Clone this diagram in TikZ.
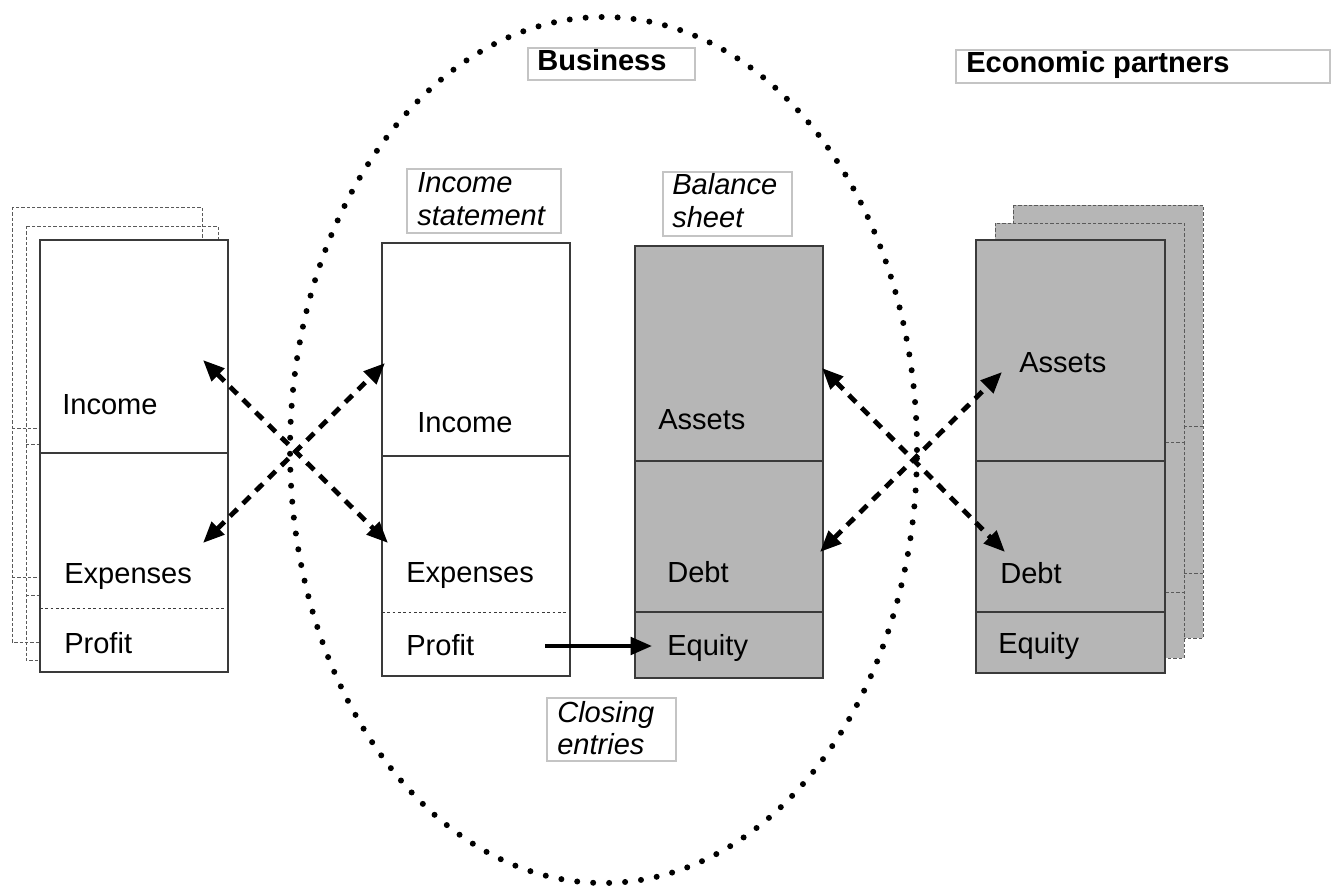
\documentclass[tikz,border=0pt]{standalone}
\usepackage{fontspec}
\setmainfont{Liberation Sans}
\usetikzlibrary{arrows.meta}
\definecolor{boxgray}{HTML}{B6B6B6}
\definecolor{edge}{HTML}{3A3A3A}
\definecolor{lbledge}{HTML}{C4C4C4}
\definecolor{shadowedge}{HTML}{5A5A5A}
\tikzset{
 txt/.style={anchor=base west, inner sep=0pt, font=\fontsize{21.8}{24}\selectfont},
 itxt/.style={anchor=base west, inner sep=0pt, font=\fontsize{21.8}{24}\selectfont\itshape},
 btxt/.style={anchor=base west, inner sep=0pt, font=\fontsize{21.8}{24}\selectfont\bfseries},
 mainbox/.style={draw=edge, line width=1.5pt},
 shadowbox/.style={draw=shadowedge, line width=0.75pt, dash pattern=on 2.5pt off 1.5pt},
 divline/.style={draw=edge, line width=1.2pt},
 dotline/.style={draw=edge, line width=0.75pt, dash pattern=on 2pt off 2pt},
 lblbox/.style={draw=lbledge, line width=1pt},
 xarrow/.style={line width=3.6pt, dash pattern=on 7.5pt off 6pt, {Triangle[length=16pt,width=13pt]}-{Triangle[length=16pt,width=13pt]}},
 closearrow/.style={line width=3pt, -{Triangle[length=16pt,width=13pt]}},
 bizline/.style={line width=4.5pt, line cap=round, dash pattern=on 0pt off 12pt},
}
\begin{document}
\begin{tikzpicture}[x=0.75pt,y=-0.75pt]
\useasboundingbox (0,0) rectangle (1331,888);
% business ellipse
\draw[bizline] (603.5,450) ellipse [x radius=235.1pt, y radius=324.75pt];

% left stack (shadows)
\draw[shadowbox] (12,207) rectangle (202,642);
\draw[shadowbox] (12,428) -- (202,428) (12,577) -- (202,577);
\draw[shadowbox] (26,226) rectangle (218,660);
\draw[shadowbox] (26,444) -- (218,444) (26,595) -- (218,595);
\draw[mainbox, fill=white] (40,240) rectangle (228,672);
\draw[divline] (40,453) -- (228,453);
\draw[dotline] (40,608) -- (225,608);

% right stack
\draw[shadowbox, fill=boxgray] (1013,205) rectangle (1203,638);
\draw[shadowbox] (1013,426) -- (1203,426) (1013,573) -- (1203,573);
\draw[shadowbox, fill=boxgray] (995,223) rectangle (1184,658);
\draw[shadowbox] (995,442) -- (1184,442) (995,592) -- (1184,592);
\draw[mainbox, fill=boxgray] (976,240) rectangle (1165,673);
\draw[divline] (976,461) -- (1165,461) (976,612) -- (1165,612);

% income statement
\draw[mainbox, fill=white] (382,243) rectangle (570,676);
\draw[divline] (382,456) -- (570,456);
\draw[dotline] (382,612) -- (566,612);

% balance sheet
\draw[mainbox, fill=boxgray] (635,246) rectangle (823,678);
\draw[divline] (635,461) -- (823,461) (635,612) -- (823,612);

% label boxes
\draw[lblbox] (528,48) rectangle (695,80);
\draw[lblbox] (956,50) rectangle (1330,83);
\draw[lblbox] (407,169) rectangle (561,233);
\draw[lblbox] (663,172) rectangle (792,236);
\draw[lblbox] (547,698) rectangle (676,761);

% titles
\node[btxt] (business) at (537,71) {Business};
\node[btxt] (partners) at (966,73) {Economic partners};
\node[itxt] (isa) at (417,193) {Income};
\node[itxt] (isb) at (417,225) {statement};
\node[itxt] (bsa) at (672,195) {Balance};
\node[itxt] (bsb) at (672,227) {sheet};
\node[itxt] (cea) at (557,722) {Closing};
\node[itxt] (ceb) at (557,754) {entries};

% box texts
\node[txt] (lincome) at (62,414) {Income};
\node[txt] (lexp) at (64,583) {Expenses};
\node[txt] (lprofit) at (64,653) {Profit};
\node[txt] (mincome) at (417,432) {Income};
\node[txt] (mexp) at (406,582) {Expenses};
\node[txt] (mprofit) at (406,655) {Profit};
\node[txt] (bassets) at (658,429) {Assets};
\node[txt] (bdebt) at (667,582) {Debt};
\node[txt] (bequity) at (667,655) {Equity};
\node[txt] (rassets) at (1019,372) {Assets};
\node[txt] (rdebt) at (1000,583) {Debt};
\node[txt] (requity) at (998,653) {Equity};

% arrow end points
\coordinate (l1a) at (203,360);
\coordinate (l1b) at (388,543);
\coordinate (l2a) at (203,543);
\coordinate (l2b) at (385,363);
\coordinate (r1a) at (822,368);
\coordinate (r1b) at (1005,552);
\coordinate (r2a) at (820,552);
\coordinate (r2b) at (1002,372);
\coordinate (cs) at (545,646);
\coordinate (ct) at (652,646);

\draw[xarrow] (l1a) -- (l1b);
\draw[xarrow] (l2a) -- (l2b);
\draw[xarrow] (r1a) -- (r1b);
\draw[xarrow] (r2a) -- (r2b);
\draw[closearrow] (cs) -- (ct);
\end{tikzpicture}
\end{document}
